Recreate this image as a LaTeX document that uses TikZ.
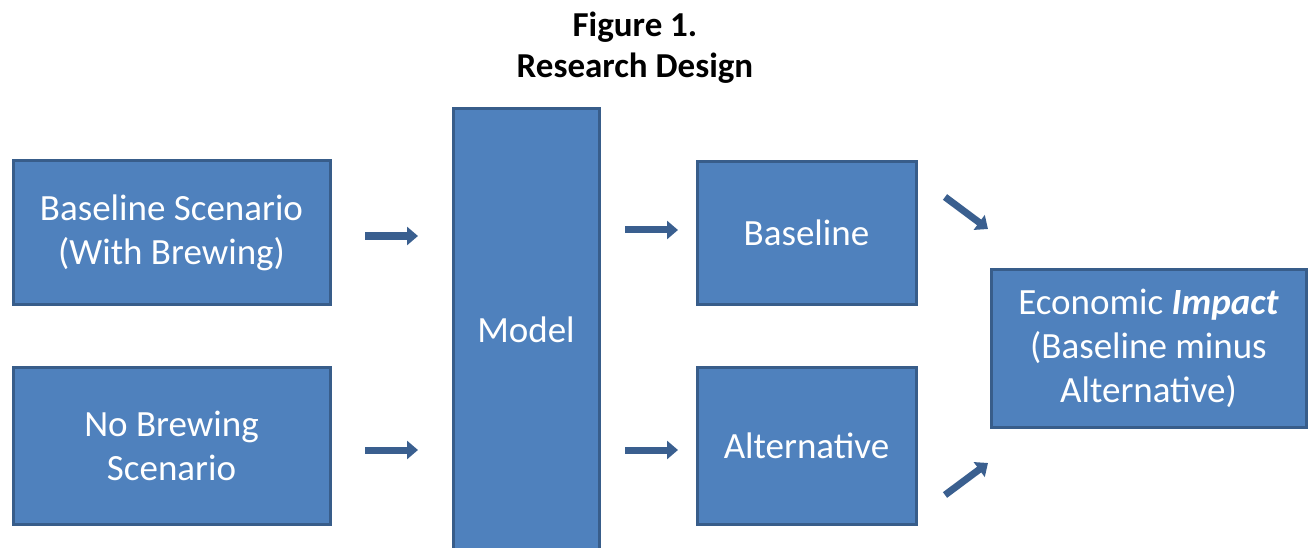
\documentclass[tikz,border=0pt]{standalone}
\usepackage{fontspec}
\setmainfont{Carlito}
\usetikzlibrary{arrows.meta}
\definecolor{boxfill}{HTML}{4F81BD}
\definecolor{boxline}{HTML}{385D8A}
\definecolor{arrcol}{HTML}{3A5F8F}
\tikzset{
  box/.style={draw=boxline, line width=3pt, fill=boxfill, text=white, align=center,
    font=\fontsize{37}{44}\selectfont, inner sep=0pt},
  lbl/.style={text=white, align=center, font=\fontsize{37}{44}\selectfont, inner sep=0pt},
  arr/.style={draw=arrcol, line width=7pt, -{Triangle[length=11pt,width=18pt]}},
}
\begin{document}
\begin{tikzpicture}[x=1pt,y=-1pt]
\useasboundingbox (0,0) rectangle (1309,548);
\clip (0,0) rectangle (1309,548);
\node[font=\fontsize{35}{41}\selectfont\bfseries, align=center] (title) at (635,48) {Figure 1.\\Research Design};
\node[box, minimum width=317, minimum height=144] (s1) at (171.5,232.5) {Baseline Scenario\\(With Brewing)};
\node[box, minimum width=317, minimum height=157] (s2) at (171.5,445.5) {No Brewing\\Scenario};
\node[box, minimum width=146, minimum height=460] (model) at (526,339) {};
\node[lbl] (mlabel) at (526,330) {Model};
\node[box, minimum width=219, minimum height=142] (base) at (806.5,233) {Baseline};
\node[box, minimum width=219, minimum height=157] (alt) at (806.5,445.5) {Alternative};
\node[box, minimum width=315, minimum height=158] (imp) at (1148.5,348) {Economic \textbf{\textit{Impact}}\\(Baseline minus\\Alternative)};
\coordinate (a1s) at (365,236); \coordinate (a1e) at (418,236);
\coordinate (a2s) at (365,450); \coordinate (a2e) at (418,450);
\coordinate (a3s) at (625,230); \coordinate (a3e) at (678,230);
\coordinate (a4s) at (625,450); \coordinate (a4e) at (678,450);
\coordinate (a5s) at (945,197); \coordinate (a5e) at (988,229);
\coordinate (a6s) at (945,495); \coordinate (a6e) at (988,463);
\draw[arr] (a1s) -- (a1e);
\draw[arr] (a2s) -- (a2e);
\draw[arr] (a3s) -- (a3e);
\draw[arr] (a4s) -- (a4e);
\draw[arr] (a5s) -- (a5e);
\draw[arr] (a6s) -- (a6e);
\end{tikzpicture}
\end{document}
